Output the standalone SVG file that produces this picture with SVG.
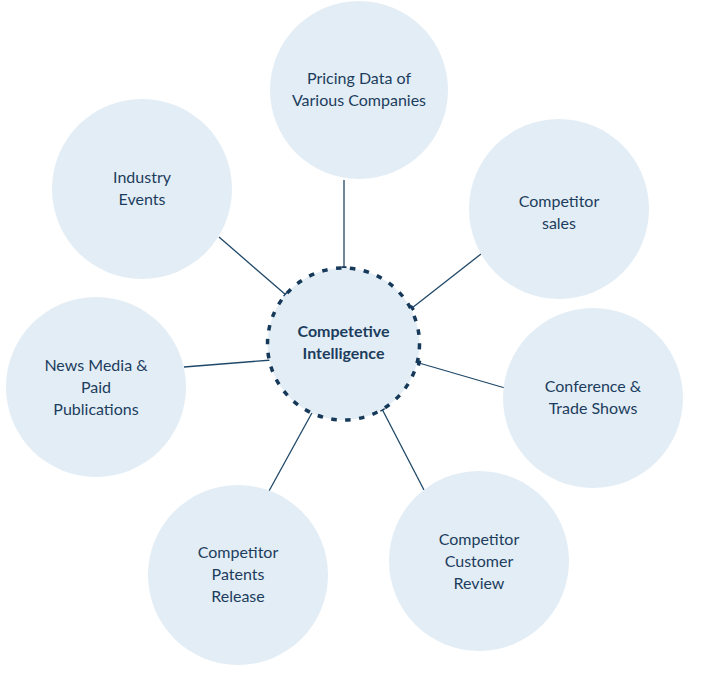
<svg xmlns="http://www.w3.org/2000/svg" width="706" height="698" viewBox="0 0 706 698">
<style>
.n{fill:#e3edf5;}
.t{font-family:Lato,"Open Sans","Liberation Sans",sans-serif;font-size:16px;fill:#1c3d5e;text-anchor:middle;}
.c{font-weight:bold;}
.l{stroke:#1f4868;stroke-width:1.3;fill:none;marker-end:url(#bar);}
.hub{fill:#e3edf5;stroke:#16395a;stroke-width:3.5;stroke-dasharray:5.5 8.5;}
</style>
<defs>
<marker id="bar" markerUnits="userSpaceOnUse" markerWidth="8" markerHeight="8" refX="4" refY="4" orient="auto" viewBox="0 0 8 8">
<rect x="2.25" y="1.5" width="3.5" height="5" fill="#16395a"/>
</marker>
</defs>
<rect width="706" height="698" fill="#ffffff"/>
<g id="connectors">
<line class="l" x1="344" y1="180" x2="344" y2="268"/>
<line class="l" x1="219" y1="237" x2="286" y2="295"/>
<line class="l" x1="481" y1="254" x2="412" y2="308"/>
<line class="l" x1="184" y1="367" x2="272" y2="360"/>
<line class="l" x1="505" y1="388" x2="419" y2="363"/>
<line class="l" x1="424" y1="490" x2="382" y2="409"/>
<line class="l" x1="269" y1="491" x2="313" y2="411"/>
</g>
<g id="pricing"><circle class="n" cx="359" cy="90" r="89"/><text class="t" x="359" y="84">Pricing Data of</text><text class="t" x="359" y="106">Various Companies</text></g>
<g id="industry"><circle class="n" cx="142" cy="189" r="90"/><text class="t" x="142" y="183">Industry</text><text class="t" x="142" y="205">Events</text></g>
<g id="sales"><circle class="n" cx="559" cy="209" r="90"/><text class="t" x="559" y="207">Competitor</text><text class="t" x="559" y="229">sales</text></g>
<g id="news"><circle class="n" cx="96" cy="387" r="90"/><text class="t" x="96" y="371">News Media &amp;</text><text class="t" x="96" y="393">Paid</text><text class="t" x="96" y="415">Publications</text></g>
<g id="conference"><circle class="n" cx="593" cy="398" r="90"/><text class="t" x="593" y="392">Conference &amp;</text><text class="t" x="593" y="414">Trade Shows</text></g>
<g id="review"><circle class="n" cx="479" cy="561" r="90"/><text class="t" x="479" y="545">Competitor</text><text class="t" x="479" y="567">Customer</text><text class="t" x="479" y="589">Review</text></g>
<g id="patents"><circle class="n" cx="238" cy="575" r="90"/><text class="t" x="238" y="558">Competitor</text><text class="t" x="238" y="580">Patents</text><text class="t" x="238" y="602">Release</text></g>
<g id="hub"><circle class="hub" cx="343.5" cy="344" r="76"/><text class="t c" x="343.5" y="337">Competetive</text><text class="t c" x="343.5" y="359">Intelligence</text></g>
</svg>
